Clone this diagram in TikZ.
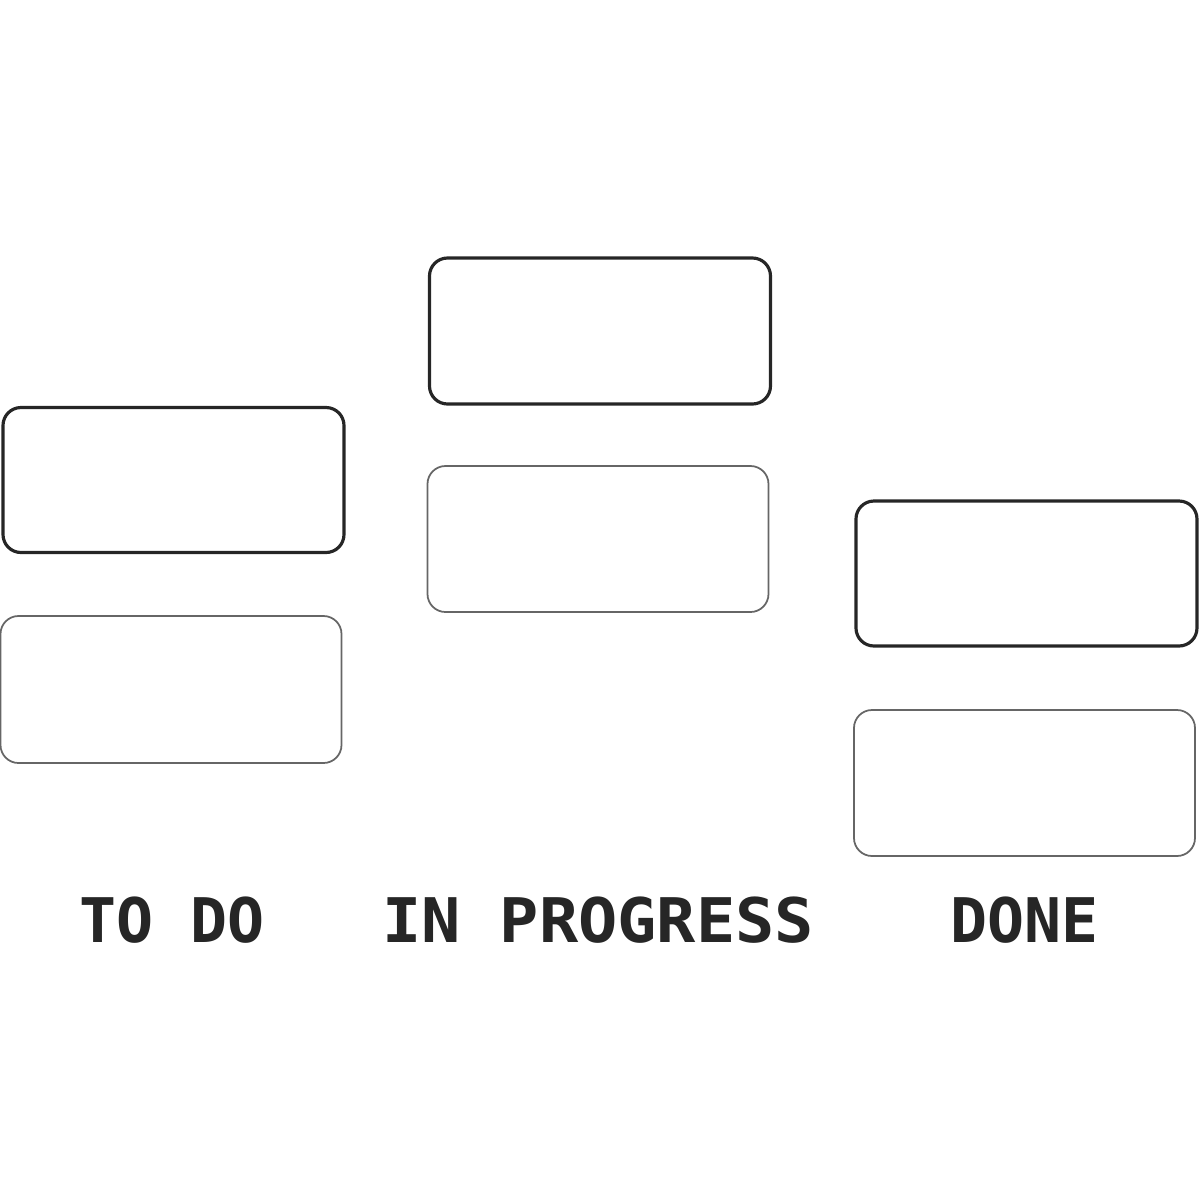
\documentclass[tikz,border=0pt]{standalone}
\usepackage{fontspec}
\newfontfamily\cardfont{DejaVu Sans Mono}
\usepackage{tikz}
\usetikzlibrary{positioning}
\tikzstyle{card}=[draw=black!85,line width=0.9pt,rounded corners=1.8mm,minimum width=3.41cm,minimum height=1.45cm,inner sep=0pt]
\tikzstyle{faint}=[draw=black!60,line width=0.5pt]
\tikzstyle{column}=[text=black!85,font=\cardfont\bfseries\fontsize{17.5}{20}\selectfont,inner sep=0pt]

\begin{document}
\begin{tikzpicture}
\useasboundingbox (0,0) rectangle (12,-12);
    \node [card] (todoa) at (1.735,-4.80) {};
    \node [card,faint,minimum height=1.47cm] (todob) at (1.71,-6.895) {};
    \node [card,minimum height=1.46cm] (proga) at (6.00,-3.31) {};
    \node [card,faint,minimum height=1.46cm] (progb) at (5.98,-5.39) {};
    \node [card] (donea) at (10.265,-5.735) {};
    \node [card,faint,minimum height=1.46cm] (doneb) at (10.245,-7.83) {};

\node [column] (todo) at (1.72,-9.20) {TO DO};
\node [column,xscale=1.06] (prog) at (5.98,-9.20) {IN PROGRESS};
\node [column] (done) at (10.245,-9.20) {DONE};
\end{tikzpicture}
\end{document}
